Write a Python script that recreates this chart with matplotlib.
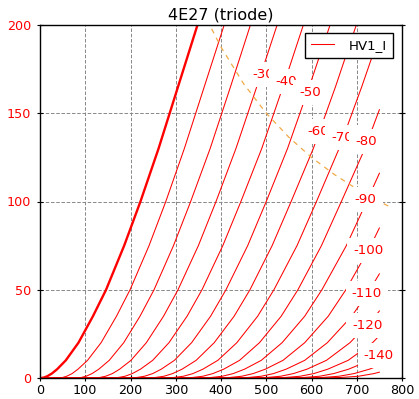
import matplotlib
matplotlib.use("Agg")
from matplotlib import pyplot as plt

# plate current levels (mA) at which the curves were read
current_levels = [0, 0.3, 1, 2.5, 5, 10, 20, 35, 50, 75, 100, 130, 165, 200, 215]

# plate voltage (V) of each grid curve at those current levels
va_g0 = [3, 9, 16, 26, 38, 57, 85, 117, 146, 186, 222, 262, 305, 348, 366]
va_g10 = [41, 50, 59, 71, 84, 105, 135, 169, 199, 241, 278, 319, 363, 407, 425]
va_g20 = [79, 91, 102, 115, 130, 153, 185, 221, 252, 295, 333, 376, 421, 465, 483]
va_g30 = [117, 132, 145, 160, 176, 201, 235, 273, 305, 350, 389, 433, 479, 524, 542]
va_g40 = [155, 173, 188, 204, 222, 249, 285, 325, 358, 404, 444, 490, 537, 582, 600]
va_g50 = [193, 214, 231, 249, 268, 297, 335, 377, 411, 459, 500, 547, 595, 641, 659]
va_g60 = [231, 255, 274, 293, 314, 345, 385, 429, 464, 513, 555, 604, 653, 699, 717]
va_g70 = [269, 296, 317, 338, 360, 393, 435, 481, 517, 568, 611, 661, 711]
va_g80 = [307, 337, 360, 382, 406, 441, 485, 533, 570, 622, 666, 718]
va_g90 = [345, 378, 403, 427, 452, 489, 535, 585, 623, 677, 722]
va_g100 = [383, 419, 446, 471, 498, 537, 585, 637, 676, 731]
va_g110 = [421, 460, 489, 516, 544, 585, 635, 689, 729]
va_g120 = [459, 501, 532, 560, 590, 633, 685, 741]
va_g130 = [497, 542, 575, 605, 636, 681, 735]
va_g140 = [535, 583, 618, 649, 682, 729]
va_g150 = [573, 624, 661, 694, 728]
va_g160 = [611, 665, 704, 738]

# current at the end of the sweep (750 V), for curves that stop inside the plot
end_ia = [None, None, None, None, None, None, None,
          194, 152, 116, 85, 59, 38, 24, 14, 7.2, 3.3]
sweep_end = 750

curves = [va_g0, va_g10, va_g20, va_g30, va_g40, va_g50, va_g60, va_g70,
          va_g80, va_g90, va_g100, va_g110, va_g120, va_g130, va_g140,
          va_g150, va_g160]

# curve labels
label_text = ['-30', '-40', '-50', '-60', '-70', '-80', '-90',
              '-100', '-110', '-120', '-140']
label_v = [493, 544, 597, 614, 667, 721, 720, 726, 722, 723, 749]
label_i = [172, 168, 162, 139.5, 136.5, 134, 101, 72, 48, 29.5, 13]

# max plate dissipation
diss_v = [360, 375, 400, 450, 500, 550, 600, 650, 700, 750, 770]
diss_i = [208, 200, 187.5, 166.7, 150, 136.4, 125, 115.4, 107.1, 100, 97.4]

fig = plt.figure(figsize=(4.19, 3.99), dpi=100)
ax = fig.add_axes([40 / 419, 21 / 399, 362 / 419, 353 / 399])

for n, va in enumerate(curves):
    xs = [0] + va
    ys = [0] + current_levels[:len(va)]
    if end_ia[n] is not None:
        xs.append(sweep_end)
        ys.append(end_ia[n])
    if n == 0:
        ax.plot(xs, ys, color='red', lw=1.7)
    elif n == 1:
        ax.plot(xs, ys, color='red', lw=0.75, label='HV1_I')
    else:
        ax.plot(xs, ys, color='red', lw=0.75)

ax.plot(diss_v, diss_i, color='#efaa45', lw=0.9, linestyle=(0, (4, 4)))

for t, v, i in zip(label_text, label_v, label_i):
    ax.text(v, i, t, color='red', fontsize=9.6, ha='center', va='center',
            zorder=5, bbox=dict(boxstyle='square,pad=0.45', fc='white', ec='none'))

ax.set_xlim(0, 800)
ax.set_ylim(0, 200)
ax.set_xticks(range(0, 801, 100))
ax.set_yticks(range(0, 201, 50))
ax.grid(True, color='#888888', lw=0.7, linestyle=(0, (3.6, 1.8)))
ax.tick_params(axis='both', direction='inout', length=4, labelsize=9.2)
ax.tick_params(axis='y', right=True, labelcolor='red', pad=4.5)
ax.tick_params(axis='x', pad=2.5)
for sp in ax.spines.values():
    sp.set_linewidth(1.0)

ax.set_title('4E27 (triode)', fontsize=11.5, pad=4)

leg = ax.legend(loc='upper right', bbox_to_anchor=(0.975, 0.977), borderaxespad=0,
                fontsize=9.6, fancybox=False, framealpha=1, edgecolor='black',
                handlelength=1.7, handletextpad=1.1, borderpad=0.45)
leg.get_frame().set_linewidth(1.0)
leg.set_zorder(10)

plt.savefig('out.png', dpi=100)
